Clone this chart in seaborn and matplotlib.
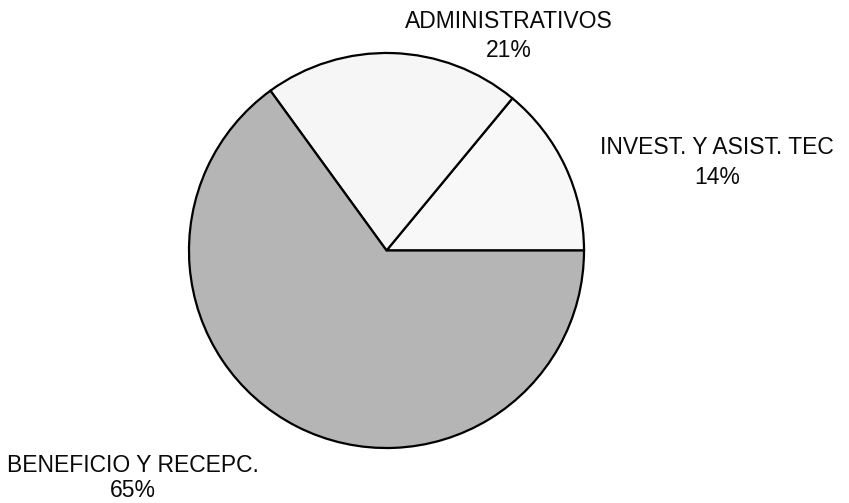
import matplotlib
matplotlib.use('Agg')
import seaborn as sns
from matplotlib import pyplot as plt

# Data
categories = ['INVEST. Y ASIST. TEC', 'ADMINISTRATIVOS', 'BENEFICIO Y RECEPC.']
shares = [14, 21, 65]
pct_labels = ['14%', '21%', '65%']
slice_colors = ['#f8f8f8', '#f6f6f6', '#b5b5b5']

sns.set_style('white')
plt.rcParams['font.family'] = ['Liberation Sans', 'DejaVu Sans']

W, H = 849, 503
fig = plt.figure(figsize=(W / 100, H / 100), dpi=100)
fig.patch.set_facecolor('white')

# pie occupies a square box in pixels (left, top, size)
px_left, px_top, px_size = 188, 52, 397
ax = fig.add_axes([px_left / W, (H - px_top - px_size) / H,
                   px_size / W, px_size / H])
ax.pie(shares, colors=slice_colors, startangle=0, counterclock=True,
       radius=1, wedgeprops=dict(edgecolor='black', linewidth=1.6))
ax.set_xlim(-1.005, 1.005)
ax.set_ylim(-1.005, 1.005)
ax.set_aspect('equal')
ax.axis('off')

# label placement (centre x, baseline of name, baseline of percent), pixels
label_pos = {
    'INVEST. Y ASIST. TEC': (717, 154, 184),
    'ADMINISTRATIVOS': (509, 28, 57),
    'BENEFICIO Y RECEPC.': (133, 472, 497),
}
for name, pct in zip(categories, pct_labels):
    cx, y1, y2 = label_pos[name]
    fig.text(cx / W, 1 - y1 / H, name, ha='center', va='baseline',
             fontsize=16.5, color='#0a0a0a')
    fig.text(cx / W, 1 - y2 / H, pct, ha='center', va='baseline',
             fontsize=16.5, color='#0a0a0a')

plt.savefig('out.png', dpi=100, facecolor='white')
plt.close()
